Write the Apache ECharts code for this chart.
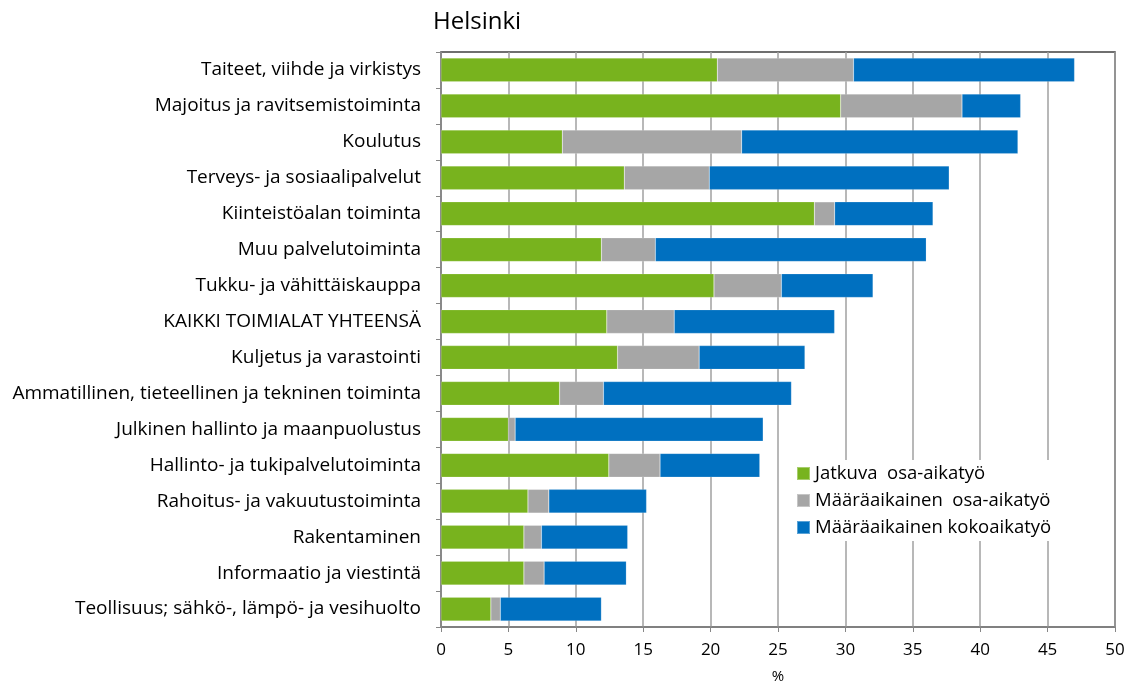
<!DOCTYPE html>
<html><head><meta charset="utf-8">
<script src="https://cdn.jsdelivr.net/npm/echarts@6/dist/echarts.min.js"></script>
<style>html,body{margin:0;padding:0;background:#fff}#c{width:1128px;height:683px}</style>
</head><body><div id="c"></div>
<script>
const categories = [
  "Taiteet, viihde ja virkistys",
  "Majoitus ja ravitsemistoiminta",
  "Koulutus",
  "Terveys- ja sosiaalipalvelut",
  "Kiinteistöalan toiminta",
  "Muu palvelutoiminta",
  "Tukku- ja vähittäiskauppa",
  "KAIKKI TOIMIALAT YHTEENSÄ",
  "Kuljetus ja varastointi",
  "Ammatillinen, tieteellinen ja tekninen toiminta",
  "Julkinen hallinto ja maanpuolustus",
  "Hallinto- ja tukipalvelutoiminta",
  "Rahoitus- ja vakuutustoiminta",
  "Rakentaminen",
  "Informaatio ja viestintä",
  "Teollisuus; sähkö-, lämpö- ja vesihuolto"
];
const jatkuvaOsa = [20.5, 29.65, 9.0, 13.6, 27.7, 11.9, 20.25, 12.3, 13.1, 8.8, 5.0, 12.45, 6.45, 6.15, 6.15, 3.7];
const maaraOsa   = [10.1, 9.0, 13.3, 6.3, 1.5, 4.0, 5.0, 5.0, 6.05, 3.25, 0.5, 3.8, 1.55, 1.3, 1.5, 0.7];
const maaraKoko  = [16.4, 4.35, 20.5, 17.8, 7.3, 20.1, 6.8, 11.9, 7.85, 13.95, 18.4, 7.4, 7.25, 6.4, 6.1, 7.5];
const seriesNames = ["Jatkuva  osa-aikatyö", "Määräaikainen  osa-aikatyö", "Määräaikainen kokoaikatyö"];
const xTicks = [0, 5, 10, 15, 20, 25, 30, 35, 40, 45, 50];

const FONT = "'Open Sans', 'Liberation Sans', sans-serif";
const colors = ['#78B31E', '#A6A6A6', '#0070C0'];
const chart = echarts.init(document.getElementById('c'), null, {renderer: 'canvas'});
const mk = (name, data, i) => ({
  name, type: 'bar', stack: 'a', data, barCategoryGap: '34%',
  itemStyle: {color: colors[i], borderColor: 'rgba(255,255,255,0.35)', borderWidth: 0.5},
  emphasis: {disabled: true}
});
chart.setOption({
  animation: false,
  title: {text: 'Helsinki', left: 428, top: 5, textStyle: {fontFamily: FONT, fontSize: 24, fontWeight: 'normal', color: '#000'}},
  grid: {left: 441, right: 13, top: 52, bottom: 56, show: true, borderColor: '#404040', borderWidth: 1.5,
         backgroundColor: 'transparent', containLabel: false, outerBoundsMode: 'none'},
  legend: {
    orient: 'vertical', left: 790, top: 460, itemWidth: 13, itemHeight: 13, itemGap: 8,
    backgroundColor: '#fff', padding: [4, 6, 4, 6],
    icon: 'rect',
    textStyle: {fontFamily: FONT, fontSize: 18.5, color: '#000'},
    data: seriesNames
  },
  xAxis: {
    type: 'value', min: xTicks[0], max: xTicks[xTicks.length - 1], interval: 5,
    name: '%', nameLocation: 'middle', nameGap: 42,
    nameTextStyle: {fontFamily: FONT, fontSize: 15, color: '#000'},
    axisLine: {show: true, lineStyle: {color: '#868686', width: 1.5}},
    axisTick: {show: true, length: 5, lineStyle: {color: '#868686'}},
    axisLabel: {fontFamily: FONT, fontSize: 17, color: '#000', margin: 15},
    splitLine: {show: true, lineStyle: {color: '#A0A0A0', width: 1.5}}
  },
  yAxis: {
    type: 'category', data: categories, inverse: true,
    axisLine: {show: true, lineStyle: {color: '#868686', width: 1.5}},
    axisTick: {show: true, length: 5, lineStyle: {color: '#868686'}},
    axisLabel: {fontFamily: FONT, fontSize: 19, color: '#000', margin: 20}
  },
  series: [mk(seriesNames[0], jatkuvaOsa, 0), mk(seriesNames[1], maaraOsa, 1), mk(seriesNames[2], maaraKoko, 2)]
});
</script></body></html>
